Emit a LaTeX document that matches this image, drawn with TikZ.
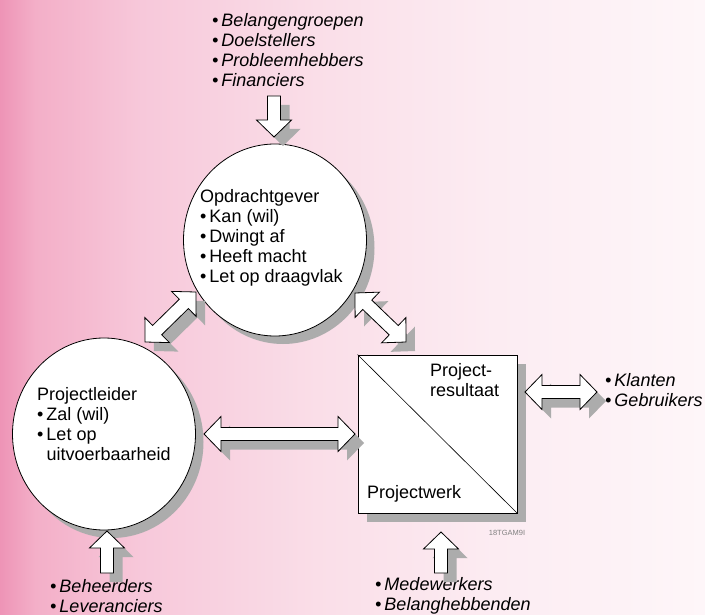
\documentclass[tikz,border=0pt]{standalone}
\usepackage{fontspec}
\setmainfont{Liberation Sans}
\usetikzlibrary{shapes.geometric,shadows,calc,positioning}

\definecolor{shadowgray}{RGB}{172,172,172}
\pgfdeclarehorizontalshading{pinkfade}{100bp}{
  rgb(0bp)=(.933,.580,.714); rgb(25bp)=(.933,.580,.714);
  rgb(27.5bp)=(.953,.686,.784); rgb(35bp)=(.969,.784,.855);
  rgb(47.5bp)=(.980,.871,.910); rgb(60bp)=(.988,.925,.949);
  rgb(75bp)=(.996,.965,.976); rgb(100bp)=(.996,.965,.976)}

\def\sw{6.5pt}
\def\hw{17.5pt}
\def\hl{17pt}

% outline of a block arrow with two heads, from tip to tip
\newcommand\dblpath[2]{(#1) -- ($(#1h)!\hw!90:(#2)$) -- ($(#1h)!\sw!90:(#2)$)
  -- ($(#2h)!\sw!-90:(#1)$) -- ($(#2h)!\hw!-90:(#1)$) -- (#2)
  -- ($(#2h)!\hw!90:(#1)$) -- ($(#2h)!\sw!90:(#1)$)
  -- ($(#1h)!\sw!-90:(#2)$) -- ($(#1h)!\hw!-90:(#2)$) -- cycle}
% outline of a block arrow with one head, from tail to tip
\newcommand\onepath[2]{($(#1)!\sw!90:(#2)$) -- ($(#2h)!\sw!-90:(#1)$)
  -- ($(#2h)!\hw!-90:(#1)$) -- (#2) -- ($(#2h)!\hw!90:(#1)$)
  -- ($(#2h)!\sw!90:(#1)$) -- ($(#1)!\sw!-90:(#2)$) -- cycle}

\newcommand\dblarrow[2]{%
  \coordinate (#1h) at ($(#1)!\hl!(#2)$);
  \coordinate (#2h) at ($(#2)!\hl!(#1)$);
  \fill[arrowshadow] \dblpath{#1}{#2};
  \draw[arrowbody] \dblpath{#1}{#2};}
\newcommand\onearrow[2]{%
  \coordinate (#2h) at ($(#2)!\hl!(#1)$);
  \fill[arrowshadow] \onepath{#1}{#2};
  \draw[arrowbody] \onepath{#1}{#2};}

\tikzset{
  shadowed/.style={drop shadow={shadow xshift=8pt, shadow yshift=-8pt,
      fill=shadowgray, opacity=1}},
  bubble/.style={ellipse, draw, line width=0.8pt, fill=white, shadowed,
    minimum width=183pt, minimum height=192pt, inner sep=0pt},
  workbox/.style={rectangle, draw, line width=0.8pt, fill=white,
    drop shadow={shadow xshift=9pt, shadow yshift=-9pt, fill=shadowgray, opacity=1},
    minimum width=159pt, minimum height=158pt, inner sep=0pt},
  txt/.style={align=left, inner sep=0pt, anchor=west},
  lst/.style={txt, font=\fontsize{18}{20}\selectfont\itshape},
  arrowbody/.style={fill=white, draw=black, line width=0.8pt, line join=miter},
  arrowshadow/.style={fill=shadowgray, transform canvas={shift={(9pt,-9pt)}}}
}

\begin{document}
\begin{tikzpicture}[x=1pt, y=-1pt, font=\fontsize{18}{20}\selectfont]

\shade[shading=pinkfade] (0,0) rectangle (705,615);
\useasboundingbox (0,0) rectangle (705,615);

% three parties
\node[bubble] (og) at (275,240) {};
\node[bubble] (pl) at (104,434) {};
\node[workbox] (pw) at (437.5,434) {};
\draw[line width=0.6pt] (pw.north west) -- (pw.south east);

\node[txt] (ogtext) at (200,238) {Opdrachtgever\\
  \textbullet\,Kan (wil)\\ \textbullet\,Dwingt af\\
  \textbullet\,Heeft macht\\ \textbullet\,Let op draagvlak};
\node[txt] (pltext) at (37,424) {Projectleider\\
  \textbullet\,Zal (wil)\\ \textbullet\,Let op\\
  \hphantom{\textbullet\,}uitvoerbaarheid};
\node[txt] (restext) at (430,380) {Project-\\resultaat};
\node[txt] (werktext) at (367,494) {Projectwerk};

% groups around
\node[lst] (toplist) at (212,50.5) {\textbullet\,Belangengroepen\\
  \textbullet\,Doelstellers\\ \textbullet\,Probleemhebbers\\
  \textbullet\,Financiers};
\node[lst] (klantlist) at (605,390) {\textbullet\,Klanten\\ \textbullet\,Gebruikers};
\node[lst] (beheerlist) at (50,596) {\textbullet\,Beheerders\\ \textbullet\,Leveranciers};
\node[lst] (werklist) at (375,596) {\textbullet\,Medewerkers\\ \textbullet\,Belanghebbenden};

\node[font=\fontsize{7.5}{8}\selectfont, text=gray, inner sep=0pt] (code) at (507,533) {18TGAM9I};

% block arrows
\coordinate (tA) at (274,96);   \coordinate (tB) at (274,137);
\coordinate (lA) at (107,573);  \coordinate (lB) at (107,531);
\coordinate (rA) at (441,573);  \coordinate (rB) at (441,532);
\coordinate (hA) at (204,434);  \coordinate (hB) at (355,434);
\coordinate (kA) at (525,392);  \coordinate (kB) at (597,392);
\coordinate (dA) at (145,342);  \coordinate (dB) at (196,292);
\coordinate (eA) at (355,293);  \coordinate (eB) at (406,342);

\onearrow{tA}{tB}
\onearrow{lA}{lB}
\onearrow{rA}{rB}
\dblarrow{hA}{hB}
\dblarrow{kA}{kB}
\dblarrow{dA}{dB}
\dblarrow{eA}{eB}

\end{tikzpicture}
\end{document}
